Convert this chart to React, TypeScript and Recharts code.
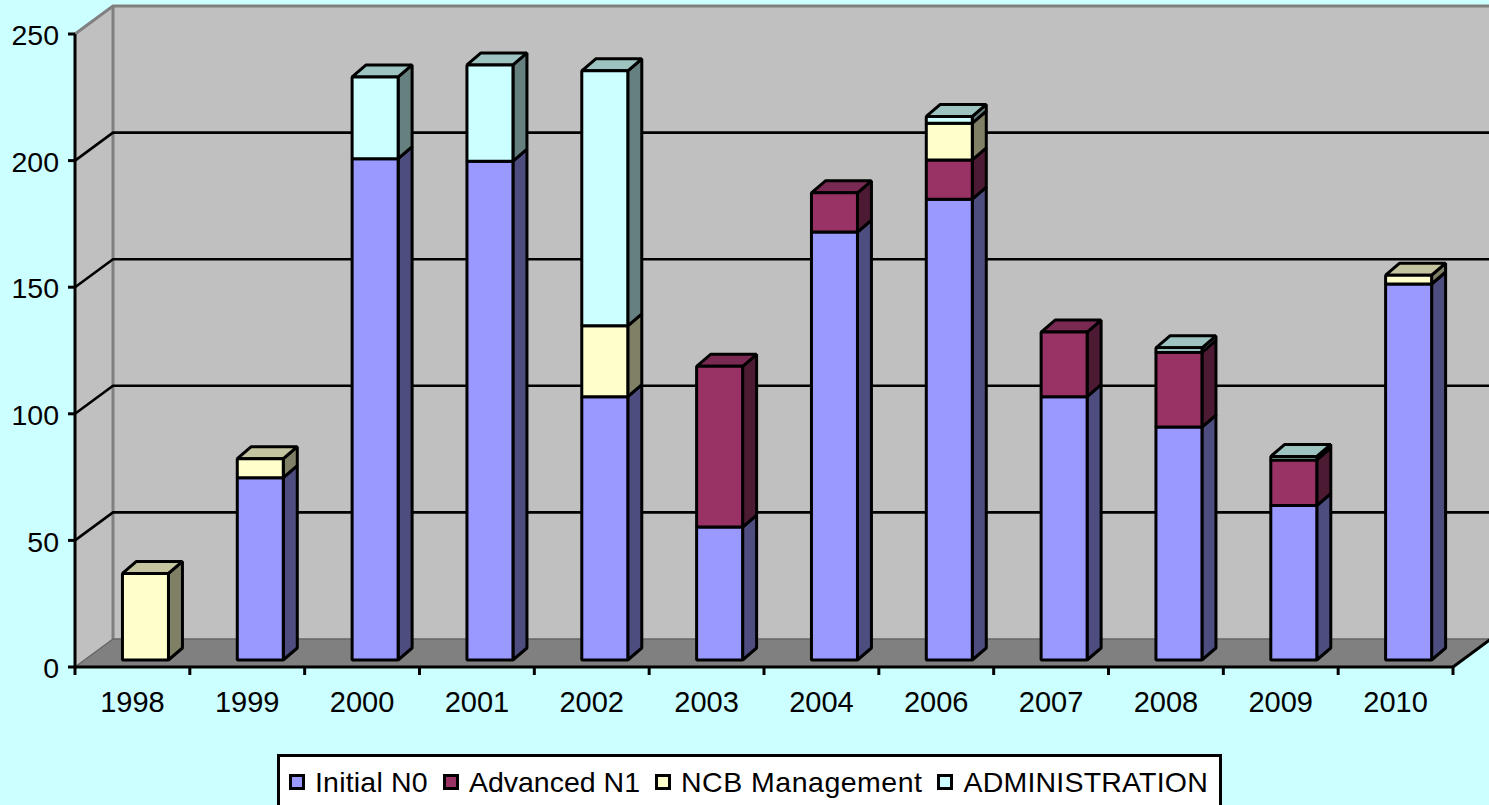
import { BarChart, Bar, XAxis, YAxis, Legend, ReferenceArea, ReferenceLine } from 'recharts'

const years = ['1998', '1999', '2000', '2001', '2002', '2003', '2004', '2006', '2007', '2008', '2009', '2010']
const initialN0 = [0, 72, 198, 197, 104, 52.5, 169, 182, 104, 92, 61, 148.5]
const advancedN1 = [0, 0, 0, 0, 0, 63.5, 15.5, 15.5, 25.5, 29.5, 18, 0]
const ncbManagement = [34.2, 7.5, 0, 0, 28, 0, 0, 14.5, 0, 0, 0, 3.5]
const administration = [0, 0, 32.3, 38, 100.7, 0, 0, 2.7, 0, 1.8, 1.4, 0]
const yTicks = [0, 50, 100, 150, 200, 250]
const gridValues = [50, 100, 150, 200]

const seriesKeys = ['Initial N0', 'Advanced N1', 'NCB Management', 'ADMINISTRATION']
const seriesValues = [initialN0, advancedN1, ncbManagement, administration]
const seriesColors = [
  { front: '#9999FF', side: '#4D4D80', top: '#7A7ACC' },
  { front: '#993366', side: '#4D1A33', top: '#7A2952' },
  { front: '#FFFFCC', side: '#808066', top: '#C4C4A0' },
  { front: '#CCFFFF', side: '#668080', top: '#9DC4C0' },
]
const legendSpacing = [0.2, 0, 0.5, 0.2]

const data = years.map((year, i) => {
  const row: any = { year }
  seriesKeys.forEach((key, k) => {
    row[key] = seriesValues[k][i]
  })
  return row
})

// depth of the chart box, and of the bars standing inside it
const DEPTH_X = 38
const DEPTH_Y = 28
const BAR_X = 14
const BAR_Y = 12
const BAR_SHIFT_X = 13
const BAR_SHIFT_Y = 7
const FONT = '"Liberation Sans", Arial, sans-serif'

const Backdrop = ({ x, y, width, height }: any) => {
  const bottom = y + height
  const right = x + width
  return (
    <g>
      <polygon
        points={`${x},${y} ${x + DEPTH_X},${y - DEPTH_Y} ${x + DEPTH_X},${bottom - DEPTH_Y} ${x},${bottom}`}
        fill="#C0C0C0"
      />
      <rect x={x + DEPTH_X} y={y - DEPTH_Y} width={width} height={height} fill="#C0C0C0" />
      <polygon
        points={`${x},${bottom} ${right},${bottom} ${right + DEPTH_X},${bottom - DEPTH_Y} ${x + DEPTH_X},${bottom - DEPTH_Y}`}
        fill="#808080"
      />
      <polyline
        points={`${x},${y} ${x + DEPTH_X},${y - DEPTH_Y} ${right + DEPTH_X},${y - DEPTH_Y}`}
        fill="none"
        stroke="#808080"
        strokeWidth={3}
      />
      <line x1={x + DEPTH_X} y1={y - DEPTH_Y} x2={x + DEPTH_X} y2={bottom - DEPTH_Y} stroke="#808080" strokeWidth={3} />
      <line x1={x} y1={bottom} x2={x + DEPTH_X} y2={bottom - DEPTH_Y} stroke="#666666" strokeWidth={1.5} />
      <line x1={x + DEPTH_X} y1={bottom - DEPTH_Y} x2={right + DEPTH_X} y2={bottom - DEPTH_Y} stroke="#666666" strokeWidth={1.5} />
      <line x1={right} y1={bottom} x2={right + DEPTH_X} y2={bottom - DEPTH_Y} stroke="#000" strokeWidth={3} />
    </g>
  )
}

const GridLine = ({ x1, y1, x2 }: any) => (
  <polyline
    points={`${x1},${y1} ${x1 + DEPTH_X},${y1 - DEPTH_Y} ${x2 + DEPTH_X},${y1 - DEPTH_Y}`}
    fill="none"
    stroke="#000"
    strokeWidth={2.6}
  />
)

const Bar3D = ({ x, y, width, height, index, seriesIndex }: any) => {
  if (!height || height <= 0) return null
  const c = seriesColors[seriesIndex]
  const left = x + BAR_SHIFT_X
  const top = y - BAR_SHIFT_Y
  const right = left + width
  const bottom = top + height
  // only the highest segment of a column shows its lid
  const isTop = seriesValues.slice(seriesIndex + 1).every((v) => !v[index])
  const edge = { stroke: '#000', strokeWidth: 3, strokeLinejoin: 'bevel' as const }
  return (
    <g>
      <polygon
        points={`${right},${top} ${right + BAR_X},${top - BAR_Y} ${right + BAR_X},${bottom - BAR_Y} ${right},${bottom}`}
        fill={c.side}
        {...edge}
      />
      {isTop && (
        <polygon
          points={`${left},${top} ${left + BAR_X},${top - BAR_Y} ${right + BAR_X},${top - BAR_Y} ${right},${top}`}
          fill={c.top}
          {...edge}
        />
      )}
      <rect x={left} y={top} width={width} height={height} fill={c.front} {...edge} />
    </g>
  )
}

const YearTick = ({ x, y, width, index, payload }: any) => {
  const step = width / years.length
  return (
    <g>
      <line x1={x - step / 2} y1={y} x2={x - step / 2} y2={y + 8} stroke="#000" strokeWidth={3} />
      {index === years.length - 1 && (
        <line x1={x + step / 2} y1={y} x2={x + step / 2} y2={y + 8} stroke="#000" strokeWidth={3} />
      )}
      <text x={x} y={y + 45} textAnchor="middle" fontSize={29} fontFamily={FONT} fill="#000">
        {payload.value}
      </text>
    </g>
  )
}

const LegendBox = ({ payload }: any) => (
  <div
    style={{
      display: 'flex',
      alignItems: 'center',
      boxSizing: 'border-box',
      width: 945,
      height: 56,
      paddingLeft: 9,
      background: '#fff',
      border: '3px solid #000',
      fontFamily: FONT,
      fontSize: 28.5,
      color: '#000',
      whiteSpace: 'nowrap',
    }}
  >
    {(payload || []).map((item: any, i: number) => (
      <span
        key={item.value}
        style={{ display: 'flex', alignItems: 'center', marginRight: 15, letterSpacing: legendSpacing[i] }}
      >
        <span
          style={{
            boxSizing: 'border-box',
            width: 16,
            height: 16,
            marginRight: 10,
            background: seriesColors[i].front,
            border: '3px solid #000',
          }}
        />
        {item.value}
      </span>
    ))}
  </div>
)

export default function App() {
  return (
    <div
      style={{
        position: 'absolute',
        left: 0,
        top: 0,
        width: 1489,
        height: 805,
        overflow: 'hidden',
        background: '#CCFFFF',
      }}
    >
      <BarChart
        width={1489}
        height={805}
        data={data}
        barCategoryGap="30%"
        margin={{ top: 34, right: 36, bottom: 48, left: 0 }}
      >
        <ReferenceArea y1={0} y2={250} shape={Backdrop} zIndex={-100} />
        {gridValues.map((v) => (
          <ReferenceLine key={v} y={v} shape={GridLine} zIndex={-90} />
        ))}
        <XAxis
          dataKey="year"
          height={40}
          interval={0}
          tickLine={false}
          tickSize={0}
          tickMargin={0}
          axisLine={{ stroke: '#000', strokeWidth: 3 }}
          tick={YearTick}
        />
        <YAxis
          width={75}
          domain={[0, 250]}
          ticks={yTicks}
          interval={0}
          tickSize={7}
          tickMargin={9}
          tickLine={{ stroke: '#000', strokeWidth: 3 }}
          axisLine={{ stroke: '#000', strokeWidth: 3 }}
          tick={{ fill: '#000', fontSize: 28.5, fontFamily: FONT, dy: 1 }}
        />
        <Legend
          content={LegendBox}
          itemSorter={null}
          wrapperStyle={{ left: 277, top: 754, bottom: 'auto', width: 945, height: 50 }}
        />
        {seriesKeys.map((key, k) => (
          <Bar
            key={key}
            dataKey={key}
            stackId="a"
            isAnimationActive={false}
            fill={seriesColors[k].front}
            shape={(props: any) => <Bar3D {...props} seriesIndex={k} />}
          />
        ))}
      </BarChart>
    </div>
  )
}
